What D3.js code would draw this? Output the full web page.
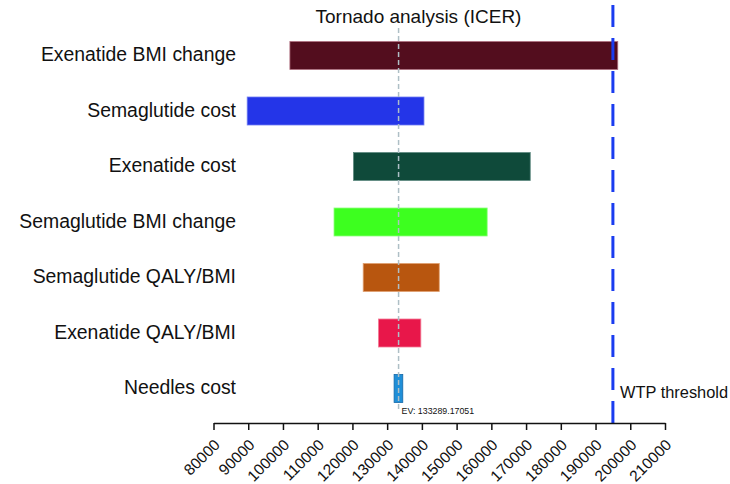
<!DOCTYPE html>
<html>
<head>
<meta charset="utf-8">
<script src="https://cdn.jsdelivr.net/npm/d3@7"></script>
<style>
  html, body { margin: 0; padding: 0; background: #fff; }
  svg { display: block; font-family: "Liberation Sans", Arial, Helvetica, sans-serif; }
</style>
</head>
<body>
<svg id="chart" width="730" height="484"></svg>
<script>
// ---- data ----
const categories = [
  "Exenatide BMI change",
  "Semaglutide cost",
  "Exenatide cost",
  "Semaglutide BMI change",
  "Semaglutide QALY/BMI",
  "Exenatide QALY/BMI",
  "Needles cost"
];
const lowValues  = [102000, 89700, 120300, 114700, 123100, 127500, 132000];
const highValues = [196400, 140600, 171200, 158800, 145000, 139700, 134500];
const barColors  = ["#530d1e", "#2435e8", "#0f4a3a", "#3dff1f", "#b8560f", "#e8174a", "#1f8fd8"];
const barStrokes = ["#b07080", "#6f7cf2", "#5f8a80", "#8cff7a", "#e0a070", "#f27a96", "#1568a8"];
const tickValues = [80000, 90000, 100000, 110000, 120000, 130000, 140000, 150000, 160000, 170000, 180000, 190000, 200000, 210000];
const expectedValue = 133289.17051;
const wtpThreshold = 195000;
const titleText = "Tornado analysis (ICER)";
const wtpLabel = "WTP threshold";

// ---- chart ----
const svg = d3.select("#chart");
const x = d3.scaleLinear().domain([80000, 210000]).range([213.5, 665]);
const y = d3.scalePoint().domain(categories).range([27.75, 416.25]).padding(0.5);
const barH = 28;
const axisY = 423;

// title
svg.append("text")
  .attr("x", 418.5).attr("y", 23)
  .attr("text-anchor", "middle")
  .attr("font-size", 19)
  .attr("fill", "#111")
  .text(titleText);

// category labels
svg.append("g").selectAll("text")
  .data(categories)
  .join("text")
  .attr("x", 236)
  .attr("y", d => y(d))
  .attr("dy", "0.3em")
  .attr("text-anchor", "end")
  .attr("font-size", 19.4)
  .attr("fill", "#111")
  .text(d => d);

// bars
const rows = categories.map((c, i) => ({ c, lo: lowValues[i], hi: highValues[i], fill: barColors[i], stroke: barStrokes[i] }));
svg.append("g").selectAll("rect")
  .data(rows)
  .join("rect")
  .attr("x", d => x(d.lo))
  .attr("y", d => y(d.c) - barH / 2)
  .attr("width", d => x(d.hi) - x(d.lo))
  .attr("height", barH)
  .attr("fill", d => d.fill)
  .attr("stroke", d => d.stroke)
  .attr("stroke-width", 0.8);

// EV line
svg.append("line")
  .attr("x1", x(expectedValue)).attr("x2", x(expectedValue))
  .attr("y1", 28).attr("y2", 412)
  .attr("stroke", "#aebfc6")
  .attr("stroke-width", 1.5)
  .attr("stroke-dasharray", "5,3");

svg.append("text")
  .attr("x", x(expectedValue) + 3).attr("y", 414)
  .attr("font-size", 8.8)
  .attr("fill", "#111")
  .text("EV: " + expectedValue.toFixed(5));

// WTP line
svg.append("line")
  .attr("x1", x(wtpThreshold)).attr("x2", x(wtpThreshold))
  .attr("y1", 5).attr("y2", axisY)
  .attr("stroke", "#1a3cf0")
  .attr("stroke-width", 3)
  .attr("stroke-dasharray", "22,11");

svg.append("text")
  .attr("x", 620).attr("y", 398)
  .attr("font-size", 16.4)
  .attr("fill", "#111")
  .text(wtpLabel);

// x axis
const axis = d3.axisBottom(x).tickValues(tickValues).tickSize(7).tickSizeOuter(0).tickFormat(d3.format("d"));
const gAxis = svg.append("g").attr("transform", `translate(0,${axisY})`).call(axis);
gAxis.select(".domain").attr("stroke", "#111").attr("stroke-width", 1.5);
gAxis.selectAll(".tick line").attr("stroke", "#111").attr("stroke-width", 1.5);
gAxis.selectAll(".tick text")
  .attr("font-size", 15.5)
  .attr("font-family", "'Liberation Sans', Arial, sans-serif")
  .attr("fill", "#111")
  .attr("text-anchor", "end")
  .attr("dy", "0.35em")
  .attr("y", 0)
  .attr("transform", "translate(3,19) rotate(-45)");
</script>
</body>
</html>
